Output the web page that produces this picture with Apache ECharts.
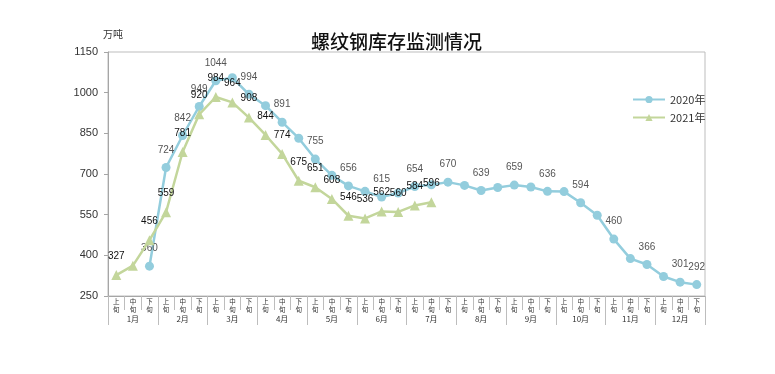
<!DOCTYPE html>
<html>
<head>
<meta charset="utf-8">
<script src="https://cdn.jsdelivr.net/npm/echarts@6/dist/echarts.min.js"></script>
<style>
html,body{margin:0;padding:0;background:#fff;}
#chart{width:775px;height:374px;}
</style>
</head>
<body>
<div id="chart"></div>
<script>
var months = ['1月','2月','3月','4月','5月','6月','7月','8月','9月','10月','11月','12月'];
var periods = ['上旬','中旬','下旬'];
var yTicks = [250, 400, 550, 700, 850, 1000, 1150];
var series2020 = [null, null, 360, 724, 842, 949, 1044, 1055, 994, 952, 891, 832, 755, 695, 656, 636, 615, 630, 654, 660, 670, 658, 639, 650, 659, 652, 636, 635, 594, 548, 460, 388, 366, 322, 301, 292];
var series2021 = [327, 362, 456, 559, 781, 920, 984, 964, 908, 844, 774, 675, 651, 608, 546, 536, 562, 560, 584, 596];
var labeled2020 = [2, 3, 4, 5, 6, 8, 10, 12, 14, 16, 18, 20, 22, 24, 26, 28, 30, 32, 34, 35];
var unlabeled2021 = [1];

var categories = [];
months.forEach(function (m) {
  periods.forEach(function (p) { categories.push(m + p); });
});

var chart = echarts.init(document.getElementById('chart'));
var numFont = '"Liberation Sans", Arial, sans-serif';
var cjkFont = '"Noto Sans CJK SC", sans-serif';

chart.setOption({
  animation: false,
  backgroundColor: '#fff',
  title: {
    text: '螺纹钢库存监测情况',
    left: 306,
    top: 27,
    textStyle: { fontFamily: cjkFont, fontSize: 19, fontWeight: 500, color: '#111' }
  },
  graphic: [{
    type: 'text',
    left: 103,
    top: 29,
    style: { text: '万吨', fontFamily: cjkFont, fontSize: 10, fill: '#333' }
  }],
  legend: {
    orient: 'vertical',
    left: 627,
    top: 89,
    itemWidth: 32,
    itemHeight: 9,
    itemGap: 7,
    textStyle: { fontFamily: cjkFont, fontSize: 11, color: '#333' },
    data: ['2020年', '2021年']
  },
  grid: {
    left: 108, right: 70, top: 52, bottom: 78,
    show: true, borderColor: '#bdbdbd', borderWidth: 1
  },
  xAxis: [{
    type: 'category',
    data: categories,
    boundaryGap: true,
    axisLine: { lineStyle: { color: '#a6a6a6' } },
    axisTick: { show: true, length: 14, alignWithLabel: false, lineStyle: { color: '#bdbdbd' } },
    axisLabel: {
      interval: 0, margin: 2, fontSize: 6.5, lineHeight: 7.5, color: '#333', fontFamily: cjkFont,
      formatter: function (v) { var p = v.slice(-2); return p.charAt(0) + '\n' + p.charAt(1); }
    }
  }, {
    type: 'category',
    data: months,
    position: 'bottom',
    boundaryGap: true,
    axisLine: { show: false },
    axisTick: { show: true, length: 29, alignWithLabel: false, lineStyle: { color: '#bdbdbd' } },
    axisLabel: { interval: 0, margin: 19, fontSize: 8, color: '#333', fontFamily: cjkFont }
  }],
  yAxis: {
    type: 'value',
    min: yTicks[0],
    max: yTicks[yTicks.length - 1],
    interval: yTicks[1] - yTicks[0],
    splitLine: { show: false },
    axisLine: { show: true, lineStyle: { color: '#a6a6a6' } },
    axisTick: { show: true, length: 4, lineStyle: { color: '#a6a6a6' } },
    axisLabel: { fontSize: 11, color: '#333', fontFamily: numFont, margin: 10,
      formatter: function (v) { return String(v); } }
  },
  series: [{
    name: '2020年',
    type: 'line',
    xAxisIndex: 0,
    data: series2020,
    symbol: 'circle',
    symbolSize: 9,
    color: '#93CDDD',
    lineStyle: { width: 2.5, color: '#93CDDD' },
    itemStyle: { color: '#93CDDD' },
    label: {
      show: true, position: 'top', distance: 8, fontSize: 10, color: '#555', fontFamily: numFont,
      formatter: function (p) { return labeled2020.indexOf(p.dataIndex) >= 0 ? String(p.value) : ''; }
    },
    z: 2
  }, {
    name: '2021年',
    type: 'line',
    xAxisIndex: 0,
    data: series2021,
    symbol: 'triangle',
    symbolSize: 10,
    color: '#C3D69B',
    lineStyle: { width: 2.5, color: '#C3D69B' },
    itemStyle: { color: '#C3D69B' },
    label: {
      show: true, position: 'top', distance: 9, fontSize: 10, color: '#111', fontFamily: numFont,
      formatter: function (p) { return unlabeled2021.indexOf(p.dataIndex) >= 0 ? '' : String(p.value); }
    },
    z: 3
  }]
});
</script>
</body>
</html>
